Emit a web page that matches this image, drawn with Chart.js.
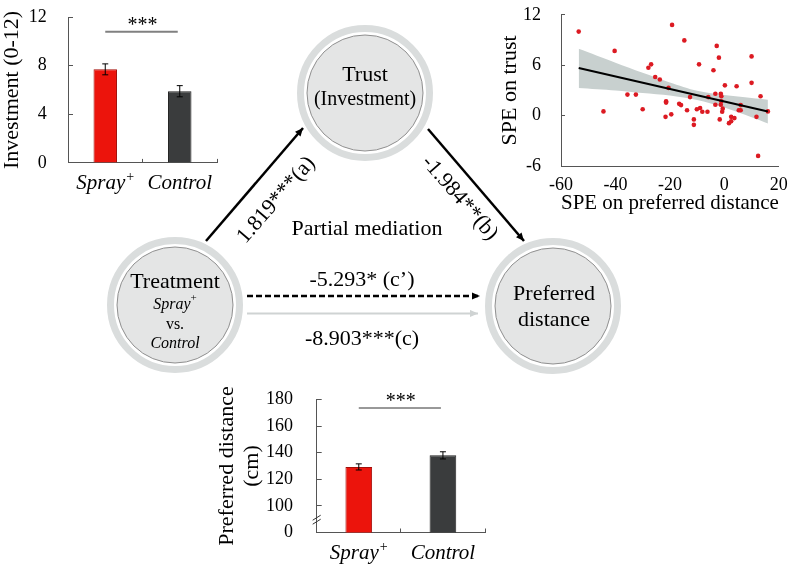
<!DOCTYPE html>
<html>
<head>
<meta charset="utf-8">
<script src="https://cdn.jsdelivr.net/npm/chart.js@4.4.1/dist/chart.umd.min.js"></script>
<style>
html, body { margin: 0; padding: 0; background: #fff; }
body { width: 796px; height: 572px; position: relative; overflow: hidden; }
canvas { position: absolute; }
#diagram { position: absolute; left: 0; top: 0; }
#diagram text { font-family: 'Liberation Serif', 'Times New Roman', serif; fill: #000; }
</style>
</head>
<body>
<canvas id="invest-chart" width="230" height="220" style="left:0px;top:-20px"></canvas>
<canvas id="spe-chart" width="326" height="250" style="left:470px;top:-20px"></canvas>
<canvas id="distance-chart" width="300" height="212" style="left:200px;top:360px"></canvas>

<svg id="diagram" width="796" height="572">
  <defs>
    <marker id="head" viewBox="0 0 10 10" refX="10" refY="5" markerWidth="10" markerHeight="8" markerUnits="userSpaceOnUse" orient="auto">
      <path d="M0,0.5 L10,5 L0,9.5 z" fill="#000"/>
    </marker>
    <marker id="head-grey" viewBox="0 0 10 10" refX="10" refY="5" markerWidth="10" markerHeight="8" markerUnits="userSpaceOnUse" orient="auto">
      <path d="M0,0.5 L10,5 L0,9.5 z" fill="#cfd3d3"/>
    </marker>
  </defs>

  <!-- nodes -->
  <circle cx="365" cy="93" r="64.5" fill="none" stroke="#dadddd" stroke-width="7"/>
  <circle cx="365" cy="93" r="58" fill="#e4e5e5" stroke="#8f8f8f" stroke-width="1"/>
  <circle cx="175" cy="305" r="64.5" fill="none" stroke="#dadddd" stroke-width="7"/>
  <circle cx="175" cy="305" r="58" fill="#e4e5e5" stroke="#8f8f8f" stroke-width="1"/>
  <circle cx="553" cy="306" r="64.5" fill="none" stroke="#dadddd" stroke-width="7"/>
  <circle cx="553" cy="306" r="58" fill="#e4e5e5" stroke="#8f8f8f" stroke-width="1"/>

  <text x="365" y="73" font-size="22" text-anchor="middle" dominant-baseline="central">Trust</text>
  <text x="365" y="98" font-size="20" text-anchor="middle" dominant-baseline="central">(Investment)</text>

  <text x="175" y="280" font-size="22" text-anchor="middle" dominant-baseline="central">Treatment</text>
  <text x="175" y="303" font-size="16" text-anchor="middle" dominant-baseline="central"><tspan font-style="italic">Spray</tspan><tspan font-size="11" dy="-6">+</tspan></text>
  <text x="175" y="323" font-size="16" text-anchor="middle" dominant-baseline="central">vs.</text>
  <text x="175" y="342" font-size="16" text-anchor="middle" dominant-baseline="central" font-style="italic">Control</text>

  <text x="554" y="292" font-size="22" text-anchor="middle" dominant-baseline="central">Preferred</text>
  <text x="554" y="318" font-size="22" text-anchor="middle" dominant-baseline="central">distance</text>

  <!-- paths -->
  <line x1="206" y1="241" x2="303" y2="128" stroke="#000" stroke-width="2.5" marker-end="url(#head)"/>
  <line x1="428" y1="129" x2="524" y2="241" stroke="#000" stroke-width="2.5" marker-end="url(#head)"/>
  <line x1="247" y1="296" x2="480" y2="296" stroke="#000" stroke-width="2.5" stroke-dasharray="6 3" marker-end="url(#head)"/>
  <line x1="247" y1="313.5" x2="478" y2="313.5" stroke="#cfd3d3" stroke-width="2" marker-end="url(#head-grey)"/>

  <text x="275" y="199" font-size="22" text-anchor="middle" dominant-baseline="central" transform="rotate(-49 275 199)">1.819***(a)</text>
  <text x="461" y="197" font-size="22" text-anchor="middle" dominant-baseline="central" transform="rotate(49 461 197)">-1.984**(b)</text>
  <text x="367" y="227" font-size="22" text-anchor="middle" dominant-baseline="central">Partial mediation</text>
  <text x="362" y="278" font-size="22" text-anchor="middle" dominant-baseline="central">-5.293* (c’)</text>
  <text x="362" y="337" font-size="22" text-anchor="middle" dominant-baseline="central">-8.903***(c)</text>
</svg>

<script>
const SERIF = "'Liberation Serif', 'Times New Roman', serif";
const AXIS = '#555';

// bar charts
const groups = ['Spray⁺', 'Control'];
const barColors = ['#ec140c', '#3a3c3d'];
const barBorders = ['#a30d08', '#222'];
const investMean = [7.7, 5.9];
const investErr = [0.45, 0.46];
const investSig = 10.8;
const investTicks = [0, 4, 8, 12];
const distanceMean = [129.3, 138];
const distanceErr = [2.3, 2.7];
const distanceSig = 173.6;
const distanceTicks = [80, 100, 120, 140, 160, 180];   // 80 is the broken axis origin, shown as 0
const distanceBreak = 90;

// scatter: SPE on preferred distance vs SPE on trust
const speDistance = [-53.5, -40.3, -19.2, -26.9, -27.9, -25.4, -23.7, -20.5, -35.6, -32.5,
  -44.4, -30.0, -21.4, -21.4, -21.6, -19.5, -16.6, -14.7, -2.8, -2.0,
  -9.3, -4.0, 10.0, 10.0, 0.2, 4.5, 13.3, -3.3, -1.3, -1.1,
  -12.6, -5.9, -1.1, -1.3, -3.3, -15.9, 6.0, -0.6, -13.7, -10.1,
  -8.9, -8.1, -6.2, -0.8, 5.3, 6.0, 16.0, -11.2, -11.2, -1.7,
  2.5, 3.7, 2.5, 1.7, 11.8, 12.4];
const speTrust = [10.0, 7.7, 10.8, 6.1, 5.7, 4.6, 4.3, 3.3, 2.5, 2.5,
  0.5, 0.75, 1.7, 1.55, -0.15, 0.15, 1.4, 8.95, 8.3, 6.9,
  6.1, 5.4, 7.05, 3.9, 3.6, 3.5, 2.3, 2.6, 2.6, 2.3,
  2.2, 2.2, 1.7, 1.3, 1.3, 1.25, 1.25, 0.83, 0.64, 0.75,
  0.9, 0.45, 0.45, 0.45, 0.63, 0.63, 0.5, -0.45, -1.1, -0.45,
  -0.15, -0.3, -0.68, -0.9, -0.15, -4.8];
const fitX = [-53.5, 16];
const fitY = [5.66, 0.49];
const bandX = [-53.5, -40, -30, -20, -10, 0, 10, 16];
const bandUpper = [7.95, 6.3, 5.1, 3.95, 2.95, 2.45, 2.1, 1.9];
const bandLower = [3.3, 3.0, 2.7, 2.4, 1.85, 0.95, -0.2, -0.95];

function toPoints(xs, ys) {
    return xs.map((x, i) => ({ x: x, y: ys[i] }));
}

// error bars, significance line, axis break and the group labels (with superscript +)
const barExtras = {
    id: 'barExtras',
    afterDatasetsDraw(chart, args, opts) {
        const { ctx } = chart;
        const y = chart.scales.y;
        const bars = chart.getDatasetMeta(0).data;
        ctx.save();
        ctx.strokeStyle = '#000';
        ctx.lineWidth = 1;
        bars.forEach((bar, i) => {
            const top = y.getPixelForValue(opts.mean[i] + opts.err[i]);
            const bot = y.getPixelForValue(opts.mean[i] - opts.err[i]);
            ctx.beginPath();
            ctx.moveTo(bar.x, top); ctx.lineTo(bar.x, bot);
            ctx.moveTo(bar.x - 3, top); ctx.lineTo(bar.x + 3, top);
            ctx.moveTo(bar.x - 3, bot); ctx.lineTo(bar.x + 3, bot);
            ctx.stroke();
        });
        const sy = y.getPixelForValue(opts.sig);
        const x0 = bars[0].x, x1 = bars[1].x;
        ctx.strokeStyle = opts.sigColor;
        ctx.lineWidth = opts.sigWidth;
        ctx.beginPath();
        ctx.moveTo(x0, sy); ctx.lineTo(x1 - 2, sy);
        ctx.stroke();
        ctx.fillStyle = '#000';
        ctx.font = '20px ' + SERIF;
        ctx.textAlign = 'center';
        ctx.textBaseline = 'alphabetic';
        ctx.fillText('***', (x0 + x1) / 2, sy - 1);
        if (opts.breakAt !== undefined) {
            const by = y.getPixelForValue(opts.breakAt);
            const bx = y.right;
            ctx.strokeStyle = '#333';
            ctx.lineWidth = 1;
            ctx.beginPath();
            ctx.moveTo(bx - 4, by + 1); ctx.lineTo(bx + 4, by - 4);
            ctx.moveTo(bx - 4, by + 5); ctx.lineTo(bx + 4, by);
            ctx.stroke();
        }
        // group labels
        const xs = chart.scales.x;
        const ly = xs.top + 26;
        ctx.textAlign = 'left';
        ctx.textBaseline = 'alphabetic';
        groups.forEach((g, i) => {
            const base = g.replace('⁺', '');
            const sup = g.endsWith('⁺') ? '+' : '';
            ctx.font = 'italic 21px ' + SERIF;
            const w1 = ctx.measureText(base).width;
            ctx.font = '14px ' + SERIF;
            const w2 = sup ? ctx.measureText(sup).width + 1 : 0;
            const start = xs.getPixelForTick(i) - (w1 + w2) / 2;
            ctx.font = 'italic 21px ' + SERIF;
            ctx.fillText(base, start, ly);
            if (sup) {
                ctx.font = '14px ' + SERIF;
                ctx.fillText(sup, start + w1 + 1, ly - 8);
            }
        });
        ctx.restore();
    }
};

function createBarChart(canvas, values, ticks, extras, layout) {
    new Chart(canvas, {
        type: 'bar',
        data: {
            labels: groups,
            datasets: [{
                data: values,
                backgroundColor: barColors,
                borderColor: barBorders,
                borderWidth: 1,
                categoryPercentage: 1,
                barPercentage: layout.barPercentage
            }]
        },
        options: {
            responsive: false,
            animation: false,
            layout: { padding: layout.padding },
            plugins: {
                legend: { display: false },
                tooltip: { enabled: false },
                barExtras: extras
            },
            scales: {
                x: {
                    afterFit: (scale) => { scale.height = layout.xHeight; },
                    grid: { drawOnChartArea: false, tickLength: -4, color: AXIS },
                    border: { color: AXIS },
                    ticks: { display: false }
                },
                y: {
                    min: ticks[0],
                    max: ticks[ticks.length - 1],
                    afterFit: (scale) => { scale.width = layout.yWidth; },
                    afterBuildTicks: (scale) => { scale.ticks = ticks.map((v) => ({ value: v })); },
                    grid: { drawOnChartArea: false, tickLength: -5, color: AXIS },
                    border: { color: AXIS },
                    ticks: {
                        color: '#000', padding: layout.tickPadding,
                        font: { family: SERIF, size: 18 },
                        callback: layout.tickLabel
                    },
                    title: {
                        display: true,
                        text: layout.title,
                        color: '#000',
                        font: { family: SERIF, size: 22, lineHeight: 1.14 },
                        padding: { top: layout.titlePadding, bottom: 0 }
                    }
                }
            }
        },
        plugins: [barExtras]
    });
}

function createScatter(canvas) {
    new Chart(canvas, {
        type: 'scatter',
        data: {
            datasets: [{
                type: 'line',
                data: toPoints(bandX, bandUpper),
                borderWidth: 0,
                pointRadius: 0,
                tension: 0.3,
                fill: false,
                order: 3
            }, {
                type: 'line',
                data: toPoints(bandX, bandLower),
                borderWidth: 0,
                pointRadius: 0,
                tension: 0.3,
                fill: '-1',
                backgroundColor: '#c8d0cf',
                order: 3
            }, {
                type: 'line',
                data: toPoints(fitX, fitY),
                borderColor: '#000',
                borderWidth: 2,
                pointRadius: 0,
                fill: false,
                order: 1
            }, {
                data: toPoints(speDistance, speTrust),
                backgroundColor: '#dc1a22',
                borderWidth: 0,
                pointRadius: 2.3,
                order: 2
            }]
        },
        options: {
            responsive: false,
            animation: false,
            layout: { padding: { top: 27.3, right: 16, left: 0, bottom: 0 } },
            plugins: { legend: { display: false }, tooltip: { enabled: false } },
            scales: {
                x: {
                    min: -60, max: 20,
                    afterFit: (scale) => { scale.height = 64; },
                    grid: { drawOnChartArea: false, drawTicks: false },
                    border: { color: AXIS },
                    ticks: { stepSize: 20, color: '#000', padding: 8.2, font: { family: SERIF, size: 18 } },
                    title: {
                        display: true, text: 'SPE on preferred distance', color: '#000',
                        font: { family: SERIF, size: 22 }, padding: { top: 0, bottom: 13.8 }
                    }
                },
                y: {
                    min: -6, max: 12,
                    afterFit: (scale) => { scale.width = 91; },
                    grid: { drawOnChartArea: false, tickLength: -4, color: AXIS },
                    border: { color: AXIS },
                    ticks: { stepSize: 6, color: '#000', padding: 24, font: { family: SERIF, size: 18 } },
                    title: {
                        display: true, text: 'SPE on trust', color: '#000',
                        font: { family: SERIF, size: 22 }, padding: { top: 26.8, bottom: 0 }
                    }
                }
            }
        }
    });
}

createBarChart(document.getElementById('invest-chart'), investMean, investTicks,
    { mean: investMean, err: investErr, sig: investSig, sigColor: '#808080', sigWidth: 2 },
    {
        padding: { top: 29, right: 13, left: 0, bottom: 0 },
        xHeight: 35, yWidth: 68, tickPadding: 26.3, titlePadding: 0,
        barPercentage: 0.315, title: 'Investment (0-12)',
        tickLabel: (v) => v
    });

createBarChart(document.getElementById('distance-chart'), distanceMean, distanceTicks,
    { mean: distanceMean, err: distanceErr, sig: distanceSig, sigColor: '#333', sigWidth: 1, breakAt: distanceBreak },
    {
        padding: { top: 33.3, right: 15, left: 0, bottom: 0 },
        xHeight: 32, yWidth: 116.7, tickPadding: 28.7, titlePadding: 14.2,
        barPercentage: 0.317, title: ['Preferred distance', '(cm)'],
        tickLabel: (v) => (v === distanceTicks[0] ? '0' : v)
    });

createScatter(document.getElementById('spe-chart'));
</script>
</body>
</html>
